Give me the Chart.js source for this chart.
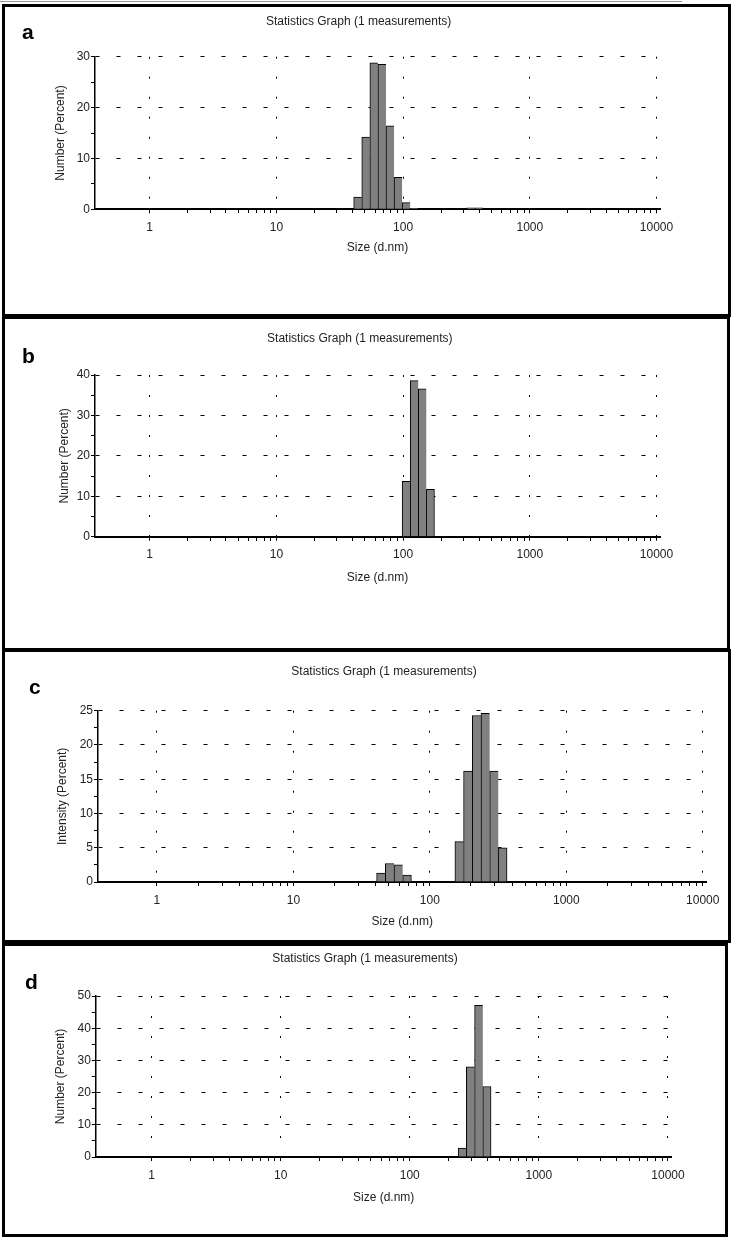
<!DOCTYPE html>
<html>
<head>
<meta charset="utf-8">
<title>Statistics Graph</title>
<script src="https://cdn.jsdelivr.net/npm/chart.js@4.4.1/dist/chart.umd.min.js"></script>
<style>
  body { margin: 0; background: #fff; width: 733px; height: 1238px; position: relative; overflow: hidden; font-family: 'Liberation Sans', Arial, sans-serif; }
  .riga { position: absolute; left: 0; top: 1px; width: 682px; height: 1px; background: #999; }
  .pannello { position: absolute; border: 3px solid #000; box-sizing: border-box; }
  .grafico { position: absolute; left: 0; }
  .lettera { position: absolute; font-weight: bold; font-size: 21px; line-height: 21px; color: #000; }
</style>
</head>
<body>
<div class="riga"></div>
<div class="pannello" style="left:2px;top:4px;width:729px;height:313px"></div>
<div class="pannello" style="left:2px;top:316px;width:728px;height:335px"></div>
<div class="pannello" style="left:2px;top:649px;width:729px;height:294px"></div>
<div class="pannello" style="left:2px;top:943px;width:726px;height:294px"></div>

<canvas id="grafico-a" class="grafico" width="733" height="313" style="top:0px"></canvas>
<canvas id="grafico-b" class="grafico" width="733" height="333" style="top:316px"></canvas>
<canvas id="grafico-c" class="grafico" width="733" height="291" style="top:649px"></canvas>
<canvas id="grafico-d" class="grafico" width="733" height="291" style="top:943px"></canvas>

<div class="lettera" style="left:22px;top:21px">a</div>
<div class="lettera" style="left:22px;top:345px">b</div>
<div class="lettera" style="left:29px;top:676px">c</div>
<div class="lettera" style="left:25px;top:971px">d</div>

<script>
// --- dati: classi di dimensione (d.nm) e percentuali ---
var sizeA = [43.82, 50.75, 58.77, 68.06, 78.82, 91.28, 105.7, 122.4, 342.0, 396.1];
var numberA = [2.4, 14.2, 28.8, 28.5, 16.4, 6.3, 1.3, 0.2, 0.3, 0.3];

var sizeB = [105.7, 122.4, 141.8, 164.2];
var numberB = [13.7, 38.6, 36.6, 11.7];

var sizeC = [43.82, 50.75, 58.77, 68.06, 164.2, 190.1, 220.2, 255.0, 295.3, 342.0];
var intensityC = [1.3, 2.7, 2.5, 1.0, 5.9, 16.2, 24.3, 24.6, 16.2, 5.0];

var sizeD = [255.0, 295.3, 342.0, 396.1];
var numberD = [2.8, 28.0, 47.1, 21.9];

// tick dell'asse x (logaritmico)
var xTicks = [1, 10, 100, 1000, 10000];
var xTickLabels = ['1', '10', '100', '1000', '10000'];
var xMin = 0.37;
var xMax = 10650;

// tick dell'asse y
var yLabelsA = [0, 10, 20, 30];
var yLabelsB = [0, 10, 20, 30, 40];
var yLabelsC = [0, 5, 10, 15, 20, 25];
var yLabelsD = [0, 10, 20, 30, 40, 50];

var titolo = 'Statistics Graph (1 measurements)';
var xTitolo = 'Size (d.nm)';

// tacche secondarie 2..9 per ogni decade
var xMinorTicks = [];
for (var d = 0; d < xTicks.length - 1; d++) {
    for (var m = 2; m <= 9; m++) {
        xMinorTicks.push(xTicks[d] * m);
    }
}

Chart.defaults.font.family = "'Liberation Sans', Arial, sans-serif";
Chart.defaults.font.size = 12;
Chart.defaults.color = '#222';

// impaginazione di ogni pannello
var pannelli = [
    { id: 'grafico-a', sizes: sizeA, values: numberA, yTitle: 'Number (Percent)', yLabels: yLabelsA, yStep: 5,
      padL: 57.2, padR: 73, padB: 57.8, tTop: 14.5, tBottom: 27.8, yW: 37.8, xH: 45.9, xPad: 6.8, yTitlePad: -3.4 },
    { id: 'grafico-b', sizes: sizeB, values: numberB, yTitle: 'Number (Percent)', yLabels: yLabelsB, yStep: 5,
      padL: 59.6, padR: 73, padB: 63.8, tTop: 15.8, tBottom: 28.8, yW: 35.4, xH: 48.5, xPad: 6.7, yTitlePad: -1.8 },
    { id: 'grafico-c', sizes: sizeC, values: intensityC, yTitle: 'Intensity (Percent)', yLabels: yLabelsC, yStep: 2.5,
      padL: 61.5, padR: 26.5, padB: 10.8, tTop: 15.5, tBottom: 31.8, yW: 36.5, xH: 47.2, xPad: 7.4, yTitlePad: -5.7 },
    { id: 'grafico-d', sizes: sizeD, values: numberD, yTitle: 'Number (Percent)', yLabels: yLabelsD, yStep: 5,
      padL: 58.5, padR: 61.5, padB: 28.8, tTop: 8.8, tBottom: 29.8, yW: 37.3, xH: 48.2, xPad: 7.4, yTitlePad: -4.7 }
];

pannelli.forEach(function(p) {
    stampaGrafico(p);
});

function stampaGrafico(p) {
    var yMax = p.yLabels[p.yLabels.length - 1];
    var yAll = [];
    for (var k = 0; k * p.yStep <= yMax + 1e-9; k++) {
        yAll.push(k * p.yStep);
    }
    var punti = p.sizes.map(function(s, i) {
        return { x: s, y: p.values[i] };
    });

    var ctx = document.getElementById(p.id);
    new Chart(ctx, {
        type: 'bar',
        data: {
            datasets: [{
                data: punti,
                backgroundColor: '#808080',
                borderColor: '#000',
                borderWidth: function(c) {
                    var i = c.dataIndex;
                    if (i === undefined) return 1;
                    var next = p.sizes[i + 1];
                    var ultimo = !next || next / p.sizes[i] > 1.2;
                    return { top: 1, left: 1, right: ultimo ? 1 : 0, bottom: 0 };
                },
                categoryPercentage: 1,
                barPercentage: 1
            }]
        },
        options: {
            responsive: false,
            animation: false,
            events: [],
            layout: { padding: { left: p.padL, right: p.padR, top: 0, bottom: p.padB } },
            plugins: {
                legend: { display: false },
                tooltip: { enabled: false },
                title: {
                    display: true,
                    text: titolo,
                    color: '#222',
                    font: { size: 12, weight: 'normal' },
                    padding: { top: p.tTop, bottom: p.tBottom }
                }
            },
            scales: {
                x: {
                    type: 'logarithmic',
                    min: xMin,
                    max: xMax,
                    offset: false,
                    afterBuildTicks: function(axis) {
                        axis.ticks = xTicks.map(function(v) { return { value: v }; });
                    },
                    afterFit: function(axis) { axis.height = p.xH; },
                    grid: { color: '#000', lineWidth: 1, offset: false, tickLength: 4, tickColor: '#000' },
                    border: { display: true, color: '#000', width: 2, dash: [2, 18] },
                    ticks: {
                        autoSkip: false,
                        maxRotation: 0,
                        padding: p.xPad,
                        callback: function(v, i) { return xTickLabels[i]; }
                    },
                    title: { display: true, text: xTitolo, color: '#222', font: { size: 12 }, padding: 0 }
                },
                x2: {
                    type: 'logarithmic',
                    min: xMin,
                    max: xMax,
                    offset: false,
                    position: { y: 0 },
                    afterBuildTicks: function(axis) {
                        axis.ticks = xMinorTicks.map(function(v) { return { value: v }; });
                    },
                    grid: { drawOnChartArea: false, offset: false, tickLength: 4, tickColor: '#000' },
                    border: { display: false },
                    ticks: { display: false }
                },
                y: {
                    type: 'linear',
                    min: 0,
                    max: yMax,
                    afterBuildTicks: function(axis) {
                        axis.ticks = yAll.map(function(v) { return { value: v }; });
                    },
                    afterFit: function(axis) { axis.width = p.yW; },
                    grid: {
                        color: function(c) {
                            if (!c.tick) return 'rgba(0,0,0,0)';
                            var v = c.tick.value;
                            return (v > 0 && p.yLabels.indexOf(v) >= 0) ? '#000' : 'rgba(0,0,0,0)';
                        },
                        lineWidth: 1,
                        tickLength: 4,
                        tickColor: '#000'
                    },
                    border: { display: true, color: '#000', width: 1.5, dash: [4, 17] },
                    ticks: {
                        autoSkip: false,
                        padding: 1,
                        callback: function(v) { return p.yLabels.indexOf(v) >= 0 ? String(v) : ''; }
                    },
                    title: { display: true, text: p.yTitle, color: '#222', font: { size: 12 }, padding: { top: p.yTitlePad, bottom: 0 } }
                }
            }
        }
    });
}
</script>
</body>
</html>
